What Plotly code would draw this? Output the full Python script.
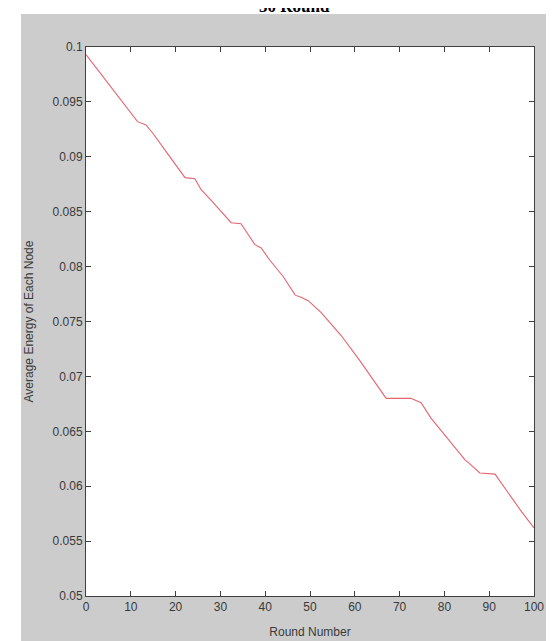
import plotly.graph_objects as go

rounds = [0, 3, 6, 9, 11.5, 13.4, 15, 18, 21, 22.1, 24.3, 25.7, 28, 31, 32.4, 34.6, 37.7, 39.1,
          41, 44, 46.7, 48, 49.6, 52.5, 54, 57, 61, 64, 67, 72.5, 74.8, 77, 80, 84.6, 85.5,
          87.9, 91.3, 94, 97, 100]
energy = [0.0993, 0.0977, 0.0961, 0.0945, 0.0932, 0.0929, 0.0921, 0.0904, 0.0887, 0.0881, 0.0880,
          0.0870, 0.0860, 0.0846, 0.0840, 0.0839, 0.0820, 0.0817,
          0.0806, 0.0791, 0.0774, 0.0772, 0.0769, 0.0758, 0.0751, 0.0737, 0.0715, 0.0697, 0.0680,
          0.0680, 0.0676, 0.0662, 0.0647, 0.0624, 0.0621,
          0.0612, 0.0611, 0.0595, 0.0578, 0.0562]

x_ticks = [0, 10, 20, 30, 40, 50, 60, 70, 80, 90, 100]
y_ticks = [0.05, 0.055, 0.06, 0.065, 0.07, 0.075, 0.08, 0.085, 0.09, 0.095, 0.1]
y_tick_text = ["0.05", "0.055", "0.06", "0.065", "0.07", "0.075", "0.08", "0.085", "0.09", "0.095", "0.1"]

tick_font = dict(family="Liberation Sans Narrow, Arial Narrow, Liberation Sans, Arial", size=12, color="#3a3a3a")

fig = go.Figure()
fig.add_trace(go.Scatter(x=rounds, y=energy, mode="lines",
                         line=dict(color="#e46470", width=1.1), showlegend=False,
                         hoverinfo="skip"))

axis_common = dict(showgrid=False, zeroline=False, showline=True, linecolor="#404040",
                   linewidth=1, mirror="ticks", ticks="inside", ticklen=5, tickcolor="#404040",
                   tickfont=tick_font)

fig.update_xaxes(range=[0, 100], tickvals=x_ticks, ticktext=[str(v) for v in x_ticks],
                 title=dict(text="Round Number", font=tick_font, standoff=14), **axis_common)
fig.update_yaxes(range=[0.05, 0.1], tickvals=y_ticks, ticktext=y_tick_text,
                 title=dict(text="Average Energy of Each Node", font=tick_font, standoff=16),
                 **axis_common)

W, H = 554, 641
L, R, T, B = 78, 28, 39, 53
pw, ph = W - L - R, H - T - B

def px(xp):
    return (xp - L) / pw

def py(yp):
    return (H - B - yp) / ph

fig.update_layout(
    width=W, height=H,
    margin=dict(l=L, r=R, t=T, b=B, pad=0),
    paper_bgcolor="#cccccc", plot_bgcolor="white",
    shapes=[
        dict(type="rect", xref="paper", yref="paper", x0=px(-5), x1=px(13), y0=py(H + 5), y1=py(-5),
             fillcolor="white", line=dict(width=0), layer="above"),
        dict(type="rect", xref="paper", yref="paper", x0=px(-5), x1=px(W + 5), y0=py(6), y1=py(-5),
             fillcolor="white", line=dict(width=0), layer="above"),
    ],
    annotations=[
        dict(text="<b>50 Round</b>", xref="paper", yref="paper", x=px(286), y=py(10),
             xanchor="center", yanchor="bottom", showarrow=False,
             font=dict(family="Liberation Serif, Times New Roman, serif", size=17, color="black"))
    ],
)

fig.write_html("out.html")
